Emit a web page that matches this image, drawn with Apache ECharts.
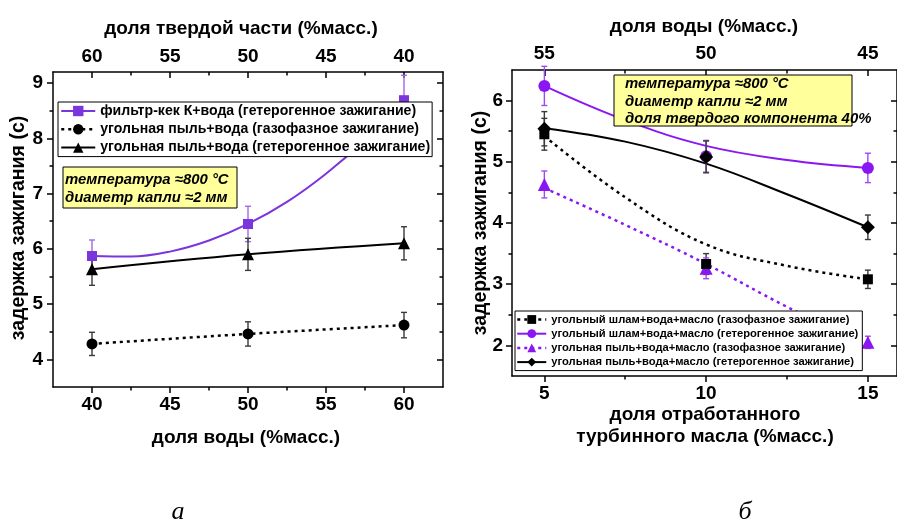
<!DOCTYPE html>
<html>
<head>
<meta charset="utf-8">
<script src="https://cdn.jsdelivr.net/npm/echarts@6/dist/echarts.min.js"></script>
<style>
html,body{margin:0;padding:0;background:#fff;}
#chart{width:897px;height:522px;}
</style>
</head>
<body>
<div id="chart"></div>
<script>
// ---------- DATA (left panel: x = water share, %) ----------
const leftWater = [40, 50, 60];
const filterCakeHet = [5.87, 6.45, 8.69];
const filterCakeHetErr = [0.29, 0.32, 0.45];
const dustGas = [4.28, 4.46, 4.62];
const dustGasErr = [0.21, 0.22, 0.23];
const dustHet = [5.63, 5.90, 6.10];
const dustHetErr = [0.29, 0.29, 0.30];
// fitted curve
const filterCakeFitX = [40, 42.5, 45, 47.5, 50, 52.5, 55, 57.5, 60];
const filterCakeFit = [5.87, 5.86, 5.95, 6.15, 6.45, 6.85, 7.36, 7.97, 8.69];

// ---------- DATA (right panel: x = used turbine oil share, %) ----------
const oilShare = [5, 10, 15];
const slurryGas = [5.45, 3.33, 3.08];
const slurryGasErr = [0.26, 0.17, 0.15];
const slurryHet = [6.24, 5.09, 4.90];
const slurryHetErr = [0.32, 0.26, 0.24];
const dustOilGas = [4.63, 3.26, 2.05];
const dustOilGasErr = [0.22, 0.17, 0.10];
const dustOilHet = [5.54, 5.08, 3.93];
const dustOilHetErr = [0.28, 0.26, 0.20];
// fitted curves
const oilFitX = [5, 7.5, 10, 12.5, 15];
const slurryGasFit = [5.42, 4.42, 3.65, 3.30, 3.08];
const slurryHetFit = [6.24, 5.68, 5.26, 5.03, 4.90];
const dustOilGasFit = [4.57, 3.97, 3.33, 2.63, 2.00];
const dustOilHetFit = [5.55, 5.33, 4.97, 4.47, 3.93];

// ---------- TICKS ----------
const leftBottomTicks = [40, 45, 50, 55, 60];
const leftBottomMinor = [42.5, 47.5, 52.5, 57.5];
const leftTopTicks = [60, 55, 50, 45, 40];
const leftTopMinor = [57.5, 52.5, 47.5, 42.5];
const leftYTicks = [4, 5, 6, 7, 8, 9];
const leftYMinor = [4.5, 5.5, 6.5, 7.5, 8.5];
const rightBottomTicks = [5, 10, 15];
const rightBottomMinor = [7.5, 12.5];
const rightTopTicks = [55, 50, 45];
const rightTopMinor = [52.5, 47.5];
const rightYTicks = [2, 3, 4, 5, 6];
const rightYMinor = [2.5, 3.5, 4.5, 5.5];

// ---------- LABELS ----------
const L = {
  filterCakeHet: 'фильтр-кек К+вода (гетерогенное зажигание)',
  dustGas: 'угольная пыль+вода (газофазное зажигание)',
  dustHet: 'угольная пыль+вода (гетерогенное зажигание)',
  slurryGas: 'угольный шлам+вода+масло (газофазное зажигание)',
  slurryHet: 'угольный шлам+вода+масло (гетерогенное зажигание)',
  dustOilGas: 'угольная пыль+вода+масло (газофазное зажигание)',
  dustOilHet: 'угольная пыль+вода+масло (гетерогенное зажигание)'
};

const FONT = '"Liberation Sans", Arial, sans-serif';
const PURPLE_L = '#7b35dc';
const PURPLE_L_ERR = '#9d6ae4';
const PURPLE_R = '#8a17f2';
const PURPLE_R_ERR = '#9f4af0';
const BLACK = '#000000';
const ERR_BLACK = '#3a3a3a';

function pairs(xs, ys) { return xs.map((x, i) => [x, ys[i]]); }
function triples(xs, ys, es) { return xs.map((x, i) => [x, ys[i], es[i]]); }

function axisPair(grid, pos, min, max, inverse, majors, minors, inside, margin) {
  const base = {
    type: 'value', gridIndex: grid, position: pos, min: min, max: max, inverse: inverse,
    splitLine: { show: false },
    axisLine: { show: true, onZero: false, lineStyle: { color: '#000', width: 1.5 } }
  };
  const major = Object.assign({}, base, {
    axisTick: { show: true, customValues: majors, inside: inside, length: 6, lineStyle: { color: '#000', width: 1.5 } },
    axisLabel: { show: margin !== null, customValues: majors, margin: margin || 8, fontSize: 19, fontWeight: 'bold', color: '#000', fontFamily: FONT }
  });
  const minor = Object.assign({}, base, {
    axisLine: { show: false, onZero: false },
    axisTick: { show: true, customValues: minors, inside: inside, length: 3.5, lineStyle: { color: '#000', width: 1.5 } },
    axisLabel: { show: false }
  });
  return [major, minor];
}

const xAxes = [].concat(
  axisPair(0, 'bottom', 37.5, 62.5, false, leftBottomTicks, leftBottomMinor, false, 8),
  axisPair(0, 'top', 37.5, 62.5, true, leftTopTicks, leftTopMinor, true, 6),
  axisPair(1, 'bottom', 4, 15.9, false, rightBottomTicks, rightBottomMinor, false, 8),
  axisPair(1, 'top', 44.1, 56, true, rightTopTicks, rightTopMinor, true, 7)
);
const yAxes = [].concat(
  axisPair(0, 'left', 3.5, 9.2, false, leftYTicks, leftYMinor, false, 10),
  axisPair(0, 'right', 3.5, 9.2, false, leftYTicks, leftYMinor, true, null),
  axisPair(1, 'left', 1.5, 6.5, false, rightYTicks, rightYMinor, false, 9),
  axisPair(1, 'right', 1.5, 6.5, false, rightYTicks, rightYMinor, true, null)
);

function errRender(color) {
  return function (params, api) {
    const x = api.value(0), y = api.value(1), e = api.value(2);
    const hi = api.coord([x, y + e]);
    const lo = api.coord([x, y - e]);
    const c = 3;
    const st = { stroke: color, lineWidth: 1.4, fill: null };
    return {
      type: 'group',
      children: [
        { type: 'line', shape: { x1: hi[0], y1: hi[1], x2: lo[0], y2: lo[1] }, style: st },
        { type: 'line', shape: { x1: hi[0] - c, y1: hi[1], x2: hi[0] + c, y2: hi[1] }, style: st },
        { type: 'line', shape: { x1: lo[0] - c, y1: lo[1], x2: lo[0] + c, y2: lo[1] }, style: st }
      ]
    };
  };
}

function errSeries(xi, yi, xs, ys, es, color) {
  return {
    type: 'custom', xAxisIndex: xi, yAxisIndex: yi, z: 3, silent: true,
    encode: { x: 0, y: 1 },
    renderItem: errRender(color),
    data: triples(xs, ys, es)
  };
}
function fitSeries(xi, yi, xs, ys, color, type, width) {
  return {
    type: 'line', xAxisIndex: xi, yAxisIndex: yi, z: 2, silent: true,
    symbol: 'none', smooth: 0.4,
    lineStyle: { color: color, width: width, type: type },
    data: pairs(xs, ys)
  };
}
function markSeries(name, xi, yi, xs, ys, color, symbol, size) {
  return {
    name: name, type: 'line', xAxisIndex: xi, yAxisIndex: yi, z: 5,
    symbol: symbol, symbolSize: size, showSymbol: true,
    lineStyle: { width: 0, opacity: 0 },
    itemStyle: { color: color, opacity: 1 },
    data: pairs(xs, ys)
  };
}

const DOT = [3, 4];

const series = [
  // left panel
  fitSeries(0, 0, filterCakeFitX, filterCakeFit, PURPLE_L, 'solid', 2),
  fitSeries(0, 0, leftWater, dustGas, BLACK, DOT, 2.5),
  fitSeries(0, 0, leftWater, dustHet, BLACK, 'solid', 2),
  errSeries(0, 0, leftWater, filterCakeHet, filterCakeHetErr, PURPLE_L_ERR),
  errSeries(0, 0, leftWater, dustGas, dustGasErr, ERR_BLACK),
  errSeries(0, 0, leftWater, dustHet, dustHetErr, ERR_BLACK),
  markSeries(L.filterCakeHet, 0, 0, leftWater, filterCakeHet, PURPLE_L, 'rect', 10),
  markSeries(L.dustGas, 0, 0, leftWater, dustGas, BLACK, 'circle', 11),
  markSeries(L.dustHet, 0, 0, leftWater, dustHet, BLACK, 'triangle', 12),
  // right panel
  fitSeries(4, 4, oilFitX, slurryGasFit, BLACK, DOT, 2.5),
  fitSeries(4, 4, oilFitX, slurryHetFit, PURPLE_R, 'solid', 2),
  fitSeries(4, 4, oilFitX, dustOilGasFit, PURPLE_R, DOT, 2.5),
  fitSeries(4, 4, oilFitX, dustOilHetFit, BLACK, 'solid', 2),
  errSeries(4, 4, oilShare, slurryGas, slurryGasErr, ERR_BLACK),
  errSeries(4, 4, oilShare, slurryHet, slurryHetErr, PURPLE_R_ERR),
  errSeries(4, 4, oilShare, dustOilGas, dustOilGasErr, PURPLE_R_ERR),
  errSeries(4, 4, oilShare, dustOilHet, dustOilHetErr, ERR_BLACK),
  markSeries(L.slurryHet, 4, 4, oilShare, slurryHet, PURPLE_R, 'circle', 12),
  markSeries(L.dustOilGas, 4, 4, oilShare, dustOilGas, PURPLE_R, 'triangle', 13),
  markSeries(L.slurryGas, 4, 4, oilShare, slurryGas, BLACK, 'rect', 10),
  markSeries(L.dustOilHet, 4, 4, oilShare, dustOilHet, BLACK, 'diamond', 14)
];

function legItem(name, color, type, width) {
  return { name: name, lineStyle: { color: color, width: width, type: type, opacity: 1 }, itemStyle: { color: color, opacity: 1 } };
}

const legends = [
  {
    left: 58, top: 102, orient: 'vertical', itemGap: 4.3, itemWidth: 34, itemHeight: 13, itemTextGap: 4,
    padding: [2, 2, 2, 2], borderColor: '#000', borderWidth: 1, backgroundColor: '#fff',
    selectedMode: false, z: 10,
    textStyle: { fontSize: 14.1, fontWeight: 'bold', color: '#000', fontFamily: FONT },
    data: [
      legItem(L.filterCakeHet, PURPLE_L, 'solid', 2),
      legItem(L.dustGas, BLACK, DOT, 2.5),
      legItem(L.dustHet, BLACK, 'solid', 2)
    ]
  },
  {
    left: 515, top: 311, orient: 'vertical', itemGap: 3.2, itemWidth: 29, itemHeight: 11, itemTextGap: 2,
    padding: [3, 4, 3, 1], borderColor: '#000', borderWidth: 1, backgroundColor: '#fff',
    selectedMode: false, z: 10,
    textStyle: { fontSize: 11.2, fontWeight: 'bold', color: '#000', fontFamily: FONT },
    data: [
      legItem(L.slurryGas, BLACK, DOT, 2.5),
      legItem(L.slurryHet, PURPLE_R, 'solid', 2),
      legItem(L.dustOilGas, PURPLE_R, DOT, 2.5),
      legItem(L.dustOilHet, BLACK, 'solid', 2)
    ]
  }
];

const TITLE_FONT = 'bold 19px ' + FONT;
function txt(text, x, y, opts) {
  return {
    type: 'text', x: x, y: y, z: 50,
    style: Object.assign({ text: text, fill: '#000', font: TITLE_FONT, align: 'center', verticalAlign: 'middle' }, opts || {})
  };
}
function rotTxt(text, x, y) {
  return { type: 'text', x: x, y: y, rotation: Math.PI / 2, z: 50,
    style: { text: text, fill: '#000', font: 'bold 19.5px ' + FONT, align: 'center', verticalAlign: 'middle' } };
}
const annoFont = 'italic bold 14.9px ' + FONT;

const graphic = [
  // axis titles
  txt('доля твердой части (%масс.)', 241, 29),
  txt('доля воды (%масс.)', 246, 438),
  rotTxt('задержка зажигания (с)', 19, 228),
  txt('доля воды (%масс.)', 704, 27),
  txt('доля отработанного', 705, 415),
  txt('турбинного масла (%масс.)', 705, 437),
  rotTxt('задержка зажигания (с)', 481, 223),
  // annotation boxes
  { type: 'rect', z: 40, shape: { x: 63, y: 167, width: 174, height: 41 }, style: { fill: '#ffff9c', stroke: '#000', lineWidth: 1 } },
  txt('температура ≈800 °C', 65, 179.5, { font: annoFont, align: 'left' }),
  txt('диаметр капли ≈2 мм', 65, 197.5, { font: annoFont, align: 'left' }),
  { type: 'rect', z: 40, shape: { x: 614, y: 75, width: 238, height: 51 }, style: { fill: '#ffff9c', stroke: '#000', lineWidth: 1 } },
  txt('температура ≈800 °C', 625, 84, { font: annoFont, align: 'left' }),
  txt('диаметр капли ≈2 мм', 625, 101.5, { font: annoFont, align: 'left' }),
  txt('доля твердого компонента 40%', 625, 119, { font: annoFont, align: 'left' }),
  // panel letters
  txt('а', 178, 512, { font: 'italic 26px "Liberation Serif", "Times New Roman", serif' }),
  txt('б', 745, 512, { font: 'italic 26px "Liberation Serif", "Times New Roman", serif' })
];

const chart = echarts.init(document.getElementById('chart'), null, { renderer: 'canvas' });
chart.setOption({
  animation: false,
  backgroundColor: '#fff',
  grid: [
    { left: 53, top: 72, width: 390, height: 315, containLabel: false },
    { left: 512, top: 70, width: 387, height: 306, containLabel: false }
  ],
  xAxis: xAxes,
  yAxis: yAxes,
  legend: legends,
  series: series,
  graphic: graphic
});
</script>
</body>
</html>
